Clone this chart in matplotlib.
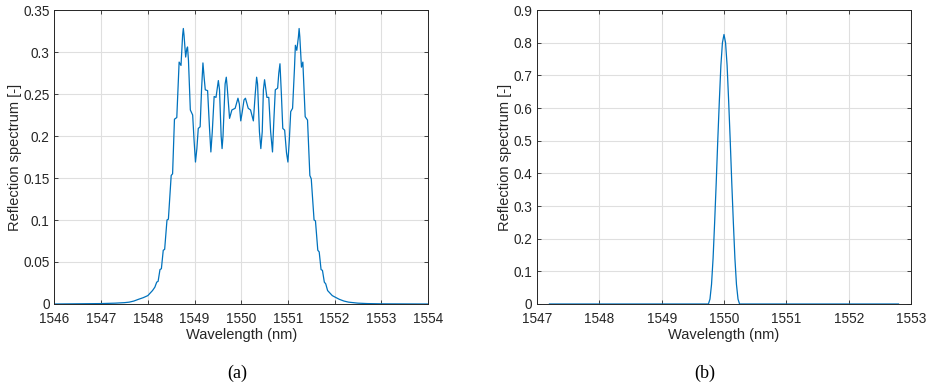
import matplotlib
matplotlib.use("Agg")
import matplotlib.pyplot as plt
import numpy as np

# (a) broadband reflection spectrum
wl_a = [1546.0, 1547.0, 1547.3, 1547.5, 1547.6, 1547.7, 1547.8, 1547.9, 1548.0,
        1548.05, 1548.1, 1548.15, 1548.19, 1548.22, 1548.26, 1548.29, 1548.33,
        1548.36, 1548.41, 1548.44, 1548.5, 1548.53, 1548.57, 1548.62, 1548.67,
        1548.71, 1548.745, 1548.76, 1548.775, 1548.81, 1548.835, 1548.85, 1548.87,
        1548.91, 1548.96, 1548.99, 1549.02, 1549.05, 1549.08,
        1549.12, 1549.15, 1549.18, 1549.205, 1549.23, 1549.28, 1549.32, 1549.35,
        1549.38, 1549.42, 1549.46, 1549.51, 1549.535,
        1549.57, 1549.59, 1549.61, 1549.655, 1549.68, 1549.7, 1549.75, 1549.80,
        1549.87, 1549.93, 1549.96, 1549.99, 1550.02, 1550.06, 1550.09,
        1550.15, 1550.20, 1550.26, 1550.30, 1550.33, 1550.35, 1550.39, 1550.42,
        1550.45, 1550.475, 1550.50, 1550.55, 1550.59, 1550.63,
        1550.67, 1550.70, 1550.73, 1550.78, 1550.805, 1550.83, 1550.86, 1550.89,
        1550.93, 1550.97, 1551.0, 1551.03, 1551.06,
        1551.10, 1551.14, 1551.16, 1551.19, 1551.225, 1551.24, 1551.255, 1551.29,
        1551.32, 1551.37, 1551.42,
        1551.47, 1551.50, 1551.56, 1551.59, 1551.64, 1551.67, 1551.71, 1551.74,
        1551.78, 1551.81, 1551.85, 1551.9, 1551.95, 1552.0, 1552.1, 1552.2,
        1552.3, 1552.4, 1552.5, 1552.7, 1553.0, 1554.0]
refl_a = [0.0, 0.0005, 0.001, 0.0016, 0.0022, 0.0035, 0.0056, 0.0075, 0.010,
          0.013, 0.016, 0.020, 0.026, 0.027, 0.041, 0.042, 0.064,
          0.065, 0.100, 0.101, 0.153, 0.155, 0.220, 0.222, 0.288,
          0.284, 0.320, 0.328, 0.320, 0.294, 0.304, 0.306, 0.290,
          0.231, 0.225, 0.195, 0.169, 0.185, 0.209,
          0.211, 0.255, 0.287, 0.270, 0.255, 0.254, 0.210, 0.181,
          0.205, 0.247, 0.246, 0.266, 0.255,
          0.200, 0.185, 0.200, 0.262, 0.270, 0.258, 0.221, 0.231,
          0.233, 0.245, 0.238, 0.218, 0.228, 0.243, 0.245,
          0.233, 0.231, 0.218, 0.250, 0.270, 0.262, 0.205, 0.185,
          0.205, 0.255, 0.267, 0.246, 0.246, 0.205,
          0.181, 0.220, 0.255, 0.257, 0.275, 0.286, 0.250, 0.209,
          0.207, 0.180, 0.169, 0.195, 0.229,
          0.233, 0.280, 0.308, 0.302, 0.318, 0.328, 0.318, 0.282,
          0.288, 0.223, 0.219,
          0.153, 0.149, 0.100, 0.099, 0.064, 0.062, 0.041, 0.040,
          0.026, 0.024, 0.016, 0.013, 0.010, 0.0085, 0.0056, 0.0035,
          0.0022, 0.0016, 0.001, 0.0005, 0.0002, 0.0]

# (b) narrow reflection peak
wl_b = [1547.2, 1549.7, 1549.75, 1549.775, 1549.8, 1549.825, 1549.85, 1549.875,
        1549.9, 1549.925, 1549.95, 1549.975, 1550.0, 1550.025, 1550.05,
        1550.075, 1550.1, 1550.125, 1550.15, 1550.175, 1550.2, 1550.225,
        1550.25, 1550.3, 1552.8]
refl_b = [0.0, 0.0, 0.0, 0.015, 0.06, 0.14, 0.25, 0.37, 0.50, 0.62, 0.73,
          0.80, 0.825, 0.80, 0.73, 0.62, 0.50, 0.37, 0.25, 0.14, 0.06,
          0.015, 0.0, 0.0, 0.0]

line_color = "#0072BD"
axis_color = "#262626"

plt.rcParams["font.family"] = ["Liberation Sans", "DejaVu Sans"]

fig = plt.figure(figsize=(9.31, 3.88), dpi=100)
ax1 = fig.add_axes([0.0585, 0.2165, 0.4012, 0.7577])
ax2 = fig.add_axes([0.5768, 0.2165, 0.4017, 0.7577])


def style(ax):
    ax.grid(True, color="#dfdfdf", linewidth=0.8)
    ax.set_axisbelow(True)
    for s in ax.spines.values():
        s.set_color(axis_color)
        s.set_linewidth(0.7)
    ax.tick_params(direction="in", length=3, width=0.6, colors=axis_color,
                   labelsize=9.8, top=True, right=True,
                   labeltop=False, labelright=False)
    ax.tick_params(axis="x", pad=6)
    ax.set_xlabel("Wavelength (nm)", fontsize=10.5, color=axis_color, labelpad=1)
    ax.set_ylabel("Reflection spectrum [-]", fontsize=10.5, color=axis_color, labelpad=1)


ax1.plot(wl_a, refl_a, color=line_color, linewidth=0.9)
ax1.set_xlim(1546, 1554)
ax1.set_ylim(0, 0.35)
ax1.set_xticks(np.arange(1546, 1555, 1))
ax1.set_yticks([0, 0.05, 0.1, 0.15, 0.2, 0.25, 0.3, 0.35])
ax1.set_yticklabels(["0", "0.05", "0.1", "0.15", "0.2", "0.25", "0.3", "0.35"])
style(ax1)

ax2.plot(wl_b, refl_b, color=line_color, linewidth=0.9)
ax2.set_xlim(1547, 1553)
ax2.set_ylim(0, 0.9)
ax2.set_xticks(np.arange(1547, 1554, 1))
ax2.set_yticks(np.arange(0, 0.95, 0.1))
ax2.set_yticklabels(["0", "0.1", "0.2", "0.3", "0.4", "0.5", "0.6", "0.7", "0.8", "0.9"])
style(ax2)

fig.text(0.2545, 0.039, "(a)", ha="center", va="center", fontsize=13,
         family=["Liberation Serif", "DejaVu Serif"])
fig.text(0.757, 0.039, "(b)", ha="center", va="center", fontsize=13,
         family=["Liberation Serif", "DejaVu Serif"])

fig.savefig("out.png", dpi=100)
